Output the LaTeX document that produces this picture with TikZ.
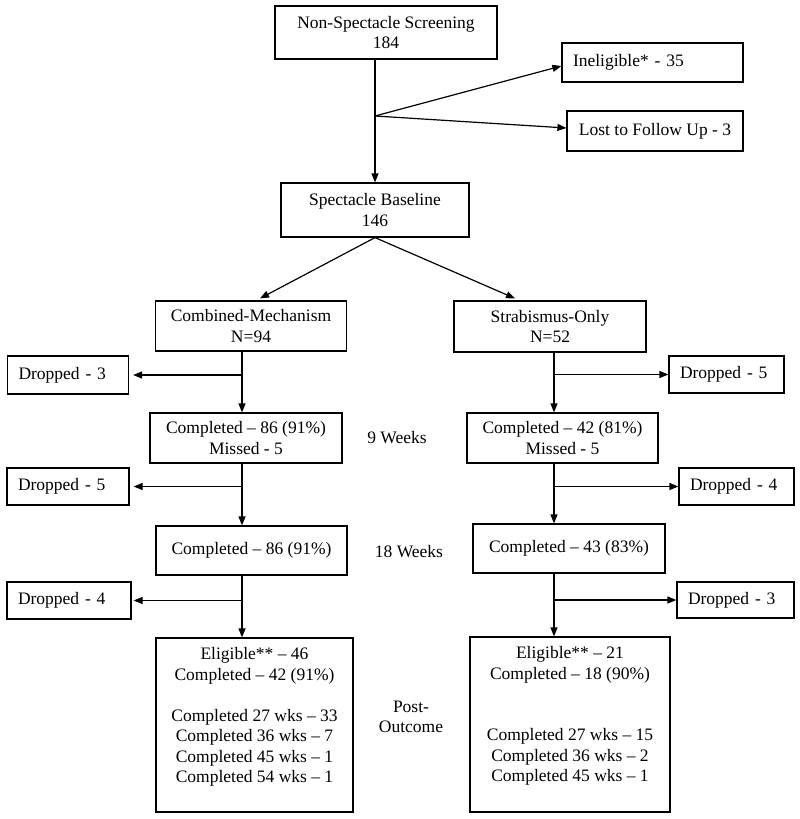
\documentclass[tikz,border=0pt]{standalone}
\usepackage{fontspec}
\setmainfont{Liberation Serif}
\usetikzlibrary{arrows.meta,calc}
\tikzset{
  every node/.style={font=\fontsize{17.5}{20.5}\selectfont},
  box/.style={draw, line width=1.2pt, inner sep=0pt, align=center},
  lbox/.style={draw, line width=1.2pt, inner ysep=0pt, inner xsep=11pt, align=left},
  plain/.style={inner sep=0pt, align=center},
  arr/.style={line width=1.2pt, -{Triangle[length=9pt,width=7pt]}},
  ln/.style={line width=1.2pt}
}
\begin{document}
\begin{tikzpicture}[x=1pt,y=-1pt]
\useasboundingbox (0,0) rectangle (800,819);
% boxes
\node[box, minimum width=222, minimum height=53] (top) at (386,32.5) {Non-Spectacle Screening\\184};
\node[lbox, text width=159, minimum height=39] (inel) at (652.5,62.5) {Ineligible* - 35};
\node[box, minimum width=176, minimum height=40] (lost) at (655,131) {Lost to Follow Up - 3};
\node[box, minimum width=188, minimum height=54] (base) at (375,210) {Spectacle Baseline\\146};
\node[box, minimum width=191, minimum height=50] (comb) at (251,326) {Combined-Mechanism\\N=94};
\node[box, minimum width=192, minimum height=51] (strab) at (550,326.5) {Strabismus-Only\\N=52};
\node[lbox, text width=99, minimum height=38] (d1L) at (68,375) {Dropped - 3};
\node[lbox, text width=93, minimum height=37] (d1R) at (726.5,374.5) {Dropped - 5};
\node[box, minimum width=192, minimum height=50] (cL1) at (246,438) {Completed -- 86 (91\%)\\Missed - 5};
\node[box, minimum width=191, minimum height=50] (cR1) at (562.5,438) {Completed -- 42 (81\%)\\Missed - 5};
\node[lbox, text width=100, minimum height=37] (d2L) at (68,486.5) {Dropped - 5};
\node[lbox, text width=93, minimum height=37] (d2R) at (736.5,486.5) {Dropped - 4};
\node[box, minimum width=191, minimum height=49] (cL2) at (251.5,550.5) {Completed -- 86 (91\%)};
\node[box, minimum width=192, minimum height=49] (cR2) at (569,548.5) {Completed -- 43 (83\%)};
\node[lbox, text width=102, minimum height=37] (d3L) at (69,600.5) {Dropped - 4};
\node[lbox, text width=95, minimum height=36] (d3R) at (735.5,600) {Dropped - 3};
\node[box, minimum width=197, minimum height=174] (bL) at (254.5,725) {};
\node[box, minimum width=200, minimum height=175] (bR) at (570,724.5) {};
\node[plain, anchor=north] (bLt) at ($(bL.north)+(0,10)$) {Eligible** -- 46\\Completed -- 42 (91\%)\\[20.5pt]Completed 27 wks -- 33\\Completed 36 wks -- 7\\Completed 45 wks -- 1\\Completed 54 wks -- 1};
\node[plain, anchor=north] (bRt) at ($(bR.north)+(0,10)$) {Eligible** -- 21\\Completed -- 18 (90\%)\\[41pt]Completed 27 wks -- 15\\Completed 36 wks -- 2\\Completed 45 wks -- 1};
% side labels
\node[plain] (w9) at (397,438) {9 Weeks};
\node[plain] (w18) at (409,552) {18 Weeks};
\node[plain] (post) at (411,717) {Post-\\Outcome};
% connectors
\coordinate (br) at (375,116);
\coordinate (colL) at (242,0);
\coordinate (colR) at (554,0);
\draw[arr] (top.south -| base.north) -- (base.north);
\draw[arr] (br) -- ($(inel.west)+(0,3.5)$);
\draw[arr] (br) -- ($(lost.west)+(0,-3)$);
\draw[arr] (base.south) -- ($(comb.north)+(9,-2)$);
\draw[arr] (base.south) -- ($(strab.north)+(-35,-2)$);
% left column
\draw[arr] (comb.south -| colL) -- (cL1.north -| colL);
\draw[arr] (colL |- d1L.east) -- ($(d1L.east)+(4,0)$);
\draw[arr] (cL1.south -| colL) -- (cL2.north -| colL);
\draw[arr] (colL |- d2L.east) -- ($(d2L.east)+(4,0)$);
\draw[arr] (cL2.south -| colL) -- (bL.north -| colL);
\draw[arr] (colL |- d3L.east) -- ($(d3L.east)+(2,0)$);
% right column
\draw[arr] (strab.south -| colR) -- (cR1.north -| colR);
\draw[arr] (colR |- d1R.west) -- (d1R.west);
\draw[arr] (cR1.south -| colR) -- (cR2.north -| colR);
\draw[arr] (colR |- d2R.west) -- (d2R.west);
\draw[arr] (cR2.south -| colR) -- (bR.north -| colR);
\draw[arr] (colR |- d3R.west) -- (d3R.west);
\end{tikzpicture}
\end{document}
